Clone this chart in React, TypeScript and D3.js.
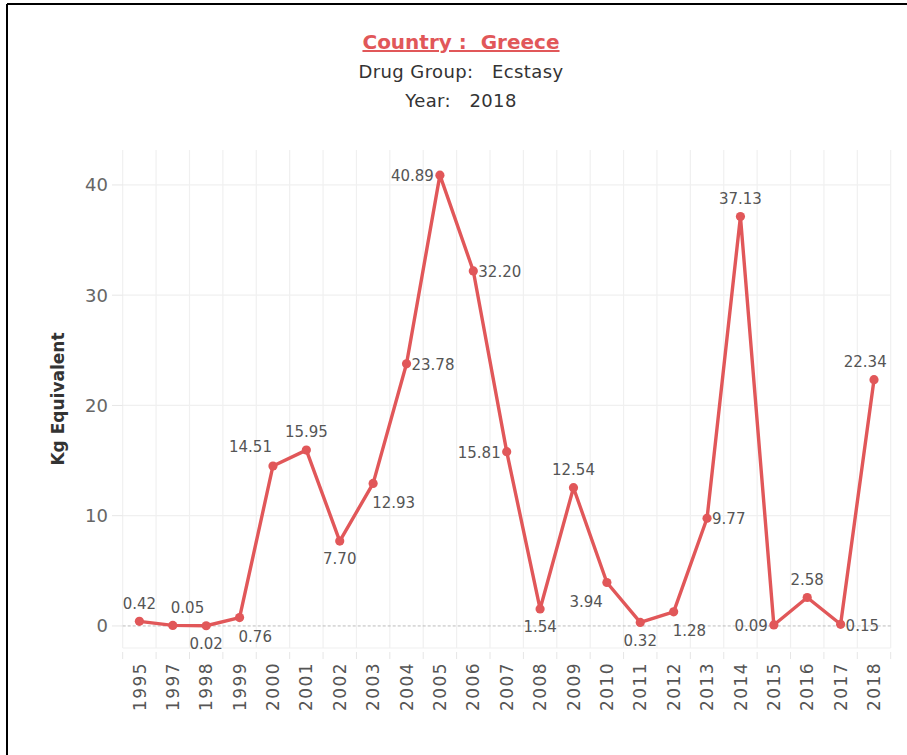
import React from "react";
import * as d3 from "d3";

const years = ["1995","1997","1998","1999","2000","2001","2002","2003","2004","2005","2006","2007","2008","2009","2010","2011","2012","2013","2014","2015","2016","2017","2018"];
const values = [0.42,0.05,0.02,0.76,14.51,15.95,7.70,12.93,23.78,40.89,32.20,15.81,1.54,12.54,3.94,0.32,1.28,9.77,37.13,0.09,2.58,0.15,22.34];
const labelPlacement = ["t","tr","b","br","tl","t","b","br","r","l","r","l","b","t","bl","b","br","r","t","l","t","r","t"];
const yTicks = [0,10,20,30,40];
const titleText = "Country :  Greece";
const subtitleText = "Drug Group:   Ecstasy";
const yearText = "Year:   2018";
const yTitle = "Kg Equivalent";

const W = 907, H = 755;
const left = 122.7, right = 890.7, top = 150, bottom = 648;
const RED = "#E15759";

export default function App() {
  const x = d3.scaleBand<string>().domain(years).range([left, right]).padding(0);
  const y = d3.scaleLinear().domain([-2, 43.17]).range([bottom, top]);
  const cx = (d: string) => (x(d) as number) + x.bandwidth() / 2;
  const line = d3.line<number>().x((_, i) => cx(years[i])).y(v => y(v));
  const bounds = [...years.map(d => x(d) as number), right];
  const numFont = "'DejaVu Sans', sans-serif";

  const labels = values.map((v, i) => {
    const px = cx(years[i]);
    const py = y(v);
    const code = labelPlacement[i];
    const txt = v.toFixed(2);
    const w = txt.length * 8.6;
    let lx = px, ly = py, anchor: "start" | "middle" | "end" = "middle";
    if (code === "t") { ly = py - 18; if (px + w / 2 > right - 3) { anchor = "end"; lx = right - 4; } }
    else if (code === "tr") { anchor = "start"; lx = px - 2; ly = py - 18; }
    else if (code === "b") { ly = py + 18; }
    else if (code === "l") { anchor = "end"; lx = px - 6; ly = py + 1; }
    else if (code === "r") { anchor = "start"; lx = px + 5; ly = py + 1; }
    else if (code === "tl") { anchor = "end"; lx = px - 1; ly = py - 19; }
    else if (code === "bl") { anchor = "end"; lx = px - 4; ly = py + 19; }
    else if (code === "br") { anchor = "start"; lx = px - 1; ly = py + 19; }
    return (
      <text key={i} x={lx} y={ly} dy="0.35em" textAnchor={anchor} fontSize={15} fill="#555" fontFamily={numFont}>{txt}</text>
    );
  });

  return (
    <svg width={W} height={H} style={{ position: "absolute", left: 0, top: 0, background: "#fff" }}>
      <rect x={0} y={0} width={W} height={H} fill="#fff" />
      <line x1={7} y1={4} x2={W} y2={4} stroke="#000" strokeWidth={2} />
      <line x1={7} y1={4} x2={7} y2={H} stroke="#000" strokeWidth={2} />

      <text x={461} y={49} textAnchor="middle" fontSize={20} fontWeight="bold" fill={RED} textDecoration="underline" fontFamily={numFont} style={{ whiteSpace: "pre" }}>{titleText}</text>
      <text x={461} y={78} textAnchor="middle" fontSize={18} letterSpacing={0.4} fill="#333" fontFamily={numFont} style={{ whiteSpace: "pre" }}>{subtitleText}</text>
      <text x={461} y={107} textAnchor="middle" fontSize={18} letterSpacing={0.4} fill="#333" fontFamily={numFont} style={{ whiteSpace: "pre" }}>{yearText}</text>

      {bounds.map((b, i) => (
        <line key={"vg" + i} x1={b} x2={b} y1={top} y2={bottom} stroke="#f0f0f0" strokeWidth={1.2} />
      ))}
      {yTicks.filter(t => t !== 0).map(t => (
        <line key={"hg" + t} x1={left} x2={right} y1={y(t)} y2={y(t)} stroke="#f0f0f0" strokeWidth={1.2} />
      ))}
      <line x1={left} x2={right} y1={bottom} y2={bottom} stroke="#f0f0f0" strokeWidth={1.2} />
      <line x1={left} x2={right} y1={y(0)} y2={y(0)} stroke="#bbb" strokeWidth={1} strokeDasharray="3,2" />

      {yTicks.map(t => (
        <g key={"yt" + t}>
          <line x1={112} x2={left} y1={y(t)} y2={y(t)} stroke="#e6e6e6" strokeWidth={1} />
          <text x={108} y={y(t)} dy="0.36em" textAnchor="end" fontSize={18} fill="#666" fontFamily={numFont}>{t}</text>
        </g>
      ))}
      <text transform={`translate(64,${(top + bottom) / 2}) rotate(-90)`} textAnchor="middle" fontSize={17} fontWeight={600} fill="#333" fontFamily={numFont}>{yTitle}</text>

      {bounds.map((b, i) => (
        <line key={"xt" + i} x1={b} x2={b} y1={652} y2={659} stroke="#e6e6e6" strokeWidth={1} />
      ))}
      {years.map(d => (
        <text key={"xl" + d} transform={`translate(${cx(d)},662) rotate(-90)`} dy="0.36em" textAnchor="end" fontSize={17} fill="#555" letterSpacing={1.4} fontFamily={numFont}>{d}</text>
      ))}

      <path d={line(values) || ""} fill="none" stroke={RED} strokeWidth={3.4} strokeLinejoin="round" />
      {values.map((v, i) => (
        <circle key={"pt" + i} cx={cx(years[i])} cy={y(v)} r={4.6} fill={RED} />
      ))}
      {labels}
    </svg>
  );
}
